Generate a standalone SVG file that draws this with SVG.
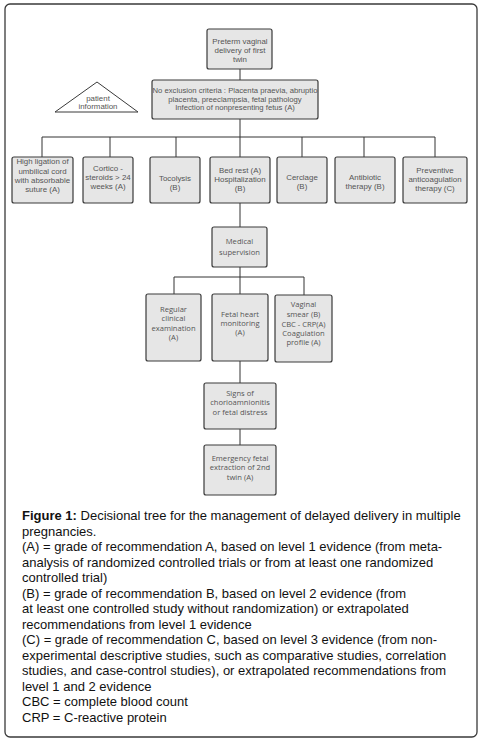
<svg xmlns="http://www.w3.org/2000/svg" width="483" height="742" viewBox="0 0 483 742">
<style>
.box{fill:#e6e6e6;stroke:#3a3a3a;stroke-width:1.2}
.t{font-family:"Liberation Sans",Arial,sans-serif;font-size:7.9px;fill:#555;text-anchor:middle}
.t2{font-family:"Open Sans","Noto Sans",sans-serif;font-size:7.6px;fill:#555;text-anchor:middle}
.cap{font-family:"Liberation Sans",Arial,sans-serif;font-size:13px;fill:#111}
.con{fill:none;stroke:#333;stroke-width:1}
</style>
<rect x="5" y="4" width="472" height="733" rx="5" fill="#fff" stroke="#3a3a3a" stroke-width="1.3"/>
<g id="connectors" class="con">
<path d="M240 69V80M240 119V137M42 137H435M42 137V157M110 137V157M176 137V157M240 137V157M302 137V157M364 137V157M435 137V157"/>
<path d="M240 203V227M240 267V277M174 277H304M174 277V294M240 277V294M304 277V295"/>
<path d="M240 361V383M240 429V445"/>
</g>
<g id="n-top"><rect class="box" x="207" y="29" width="65" height="40" rx="2"/>
<text class="t"><tspan x="240" y="44">Preterm vaginal</tspan><tspan x="240" y="53">delivery of first</tspan><tspan x="240" y="62">twin</tspan></text></g>
<g id="n-excl"><rect class="box" x="152" y="80" width="166" height="39" rx="2"/>
<text class="t" style="font-size:7.7px"><tspan x="235" y="93">No exclusion criteria : Placenta praevia, abruptio</tspan><tspan x="235" y="101.5">placenta, preeclampsia, fetal pathology</tspan><tspan x="235" y="110">Infection of nonpresenting fetus (A)</tspan></text></g>
<g id="n-patient"><polygon points="97,82 55,112 138,112" fill="#fff" stroke="#3a3a3a" stroke-width="1"/>
<text class="t"><tspan x="98" y="100.5">patient</tspan><tspan x="98" y="109">information</tspan></text></g>
<g id="n-ligation"><rect class="box" x="12" y="157" width="61" height="46" rx="2"/>
<text class="t"><tspan x="42.5" y="164">High ligation of</tspan><tspan x="42.5" y="173.5">umbilical cord</tspan><tspan x="42.5" y="183">with absorbable</tspan><tspan x="42.5" y="192">suture (A)</tspan></text></g>
<g id="n-cortico"><rect class="box" x="83" y="157" width="50" height="46" rx="2"/>
<text class="t"><tspan x="108" y="170.5">Cortico -</tspan><tspan x="108" y="179.5">steroids &gt; 24</tspan><tspan x="108" y="188.5">weeks (A)</tspan></text></g>
<g id="n-tocolysis"><rect class="box" x="150" y="157" width="50" height="46" rx="2"/>
<text class="t"><tspan x="175" y="180.5">Tocolysis</tspan><tspan x="175" y="189.5">(B)</tspan></text></g>
<g id="n-bedrest"><rect class="box" x="210" y="157" width="60" height="46" rx="2"/>
<text class="t"><tspan x="240" y="172.5">Bed rest (A)</tspan><tspan x="240" y="181.5">Hospitalization</tspan><tspan x="240" y="190.5">(B)</tspan></text></g>
<g id="n-cerclage"><rect class="box" x="277" y="157" width="50" height="46" rx="2"/>
<text class="t"><tspan x="302" y="179.5">Cerclage</tspan><tspan x="302" y="188.5">(B)</tspan></text></g>
<g id="n-antibiotic"><rect class="box" x="335" y="157" width="60" height="46" rx="2"/>
<text class="t"><tspan x="365" y="179.5">Antibiotic</tspan><tspan x="365" y="188.5">therapy (B)</tspan></text></g>
<g id="n-anticoag"><rect class="box" x="403" y="157" width="64" height="46" rx="2"/>
<text class="t"><tspan x="435" y="172.5">Preventive</tspan><tspan x="435" y="181.5">anticoagulation</tspan><tspan x="435" y="190.5">therapy (C)</tspan></text></g>
<g id="n-medical"><rect class="box" x="212" y="227" width="55" height="40" rx="2"/>
<text class="t2"><tspan x="239.5" y="243.5">Medical</tspan><tspan x="239.5" y="254.5">supervision</tspan></text></g>
<g id="n-regular"><rect class="box" x="146" y="294" width="55" height="67" rx="2"/>
<text class="t2"><tspan x="173.5" y="312">Regular</tspan><tspan x="173.5" y="321">clinical</tspan><tspan x="173.5" y="330.5">examination</tspan><tspan x="173.5" y="339.5">(A)</tspan></text></g>
<g id="n-fetal"><rect class="box" x="212" y="294" width="56" height="67" rx="2"/>
<text class="t2"><tspan x="240" y="316.5">Fetal heart</tspan><tspan x="240" y="325.5">monitoring</tspan><tspan x="240" y="334.5">(A)</tspan></text></g>
<g id="n-vaginal"><rect class="box" x="275" y="295" width="57" height="67" rx="2"/>
<text class="t2"><tspan x="303.5" y="306.5">Vaginal</tspan><tspan x="303.5" y="316.5">smear (B)</tspan><tspan x="303.5" y="326.5">CBC - CRP(A)</tspan><tspan x="303.5" y="335.5">Coagulation</tspan><tspan x="303.5" y="344.5">profile (A)</tspan></text></g>
<g id="n-signs"><rect class="box" x="204" y="383" width="72" height="46" rx="2"/>
<text class="t2"><tspan x="240" y="395.5">Signs of</tspan><tspan x="240" y="404.5">chorioamnionitis</tspan><tspan x="240" y="414.5">or fetal distress</tspan></text></g>
<g id="n-emergency"><rect class="box" x="204" y="445" width="72" height="50" rx="2"/>
<text class="t2"><tspan x="240" y="460.5">Emergency fetal</tspan><tspan x="240" y="469.5">extraction of 2nd</tspan><tspan x="240" y="479.5">twin (A)</tspan></text></g>
<text class="cap" x="22" y="520"><tspan font-weight="bold">Figure 1:</tspan> Decisional tree for the management of delayed delivery in multiple</text>
<text class="cap"><tspan x="22" y="535.5">pregnancies.</tspan><tspan x="22" y="551">(A) = grade of recommendation A, based on level 1 evidence (from meta-</tspan><tspan x="22" y="566.5">analysis of randomized controlled trials or from at least one randomized</tspan><tspan x="22" y="582">controlled trial)</tspan><tspan x="22" y="597.5">(B) = grade of recommendation B, based on level 2 evidence (from</tspan><tspan x="22" y="613">at least one controlled study without randomization) or extrapolated</tspan><tspan x="22" y="628.5">recommendations from level 1 evidence</tspan><tspan x="22" y="644">(C) = grade of recommendation C, based on level 3 evidence (from non-</tspan><tspan x="22" y="659.5">experimental descriptive studies, such as comparative studies, correlation</tspan><tspan x="22" y="675">studies, and case-control studies), or extrapolated recommendations from</tspan><tspan x="22" y="690.5">level 1 and 2 evidence</tspan><tspan x="22" y="706">CBC = complete blood count</tspan><tspan x="22" y="721.5">CRP = C-reactive protein</tspan></text>
</svg>
